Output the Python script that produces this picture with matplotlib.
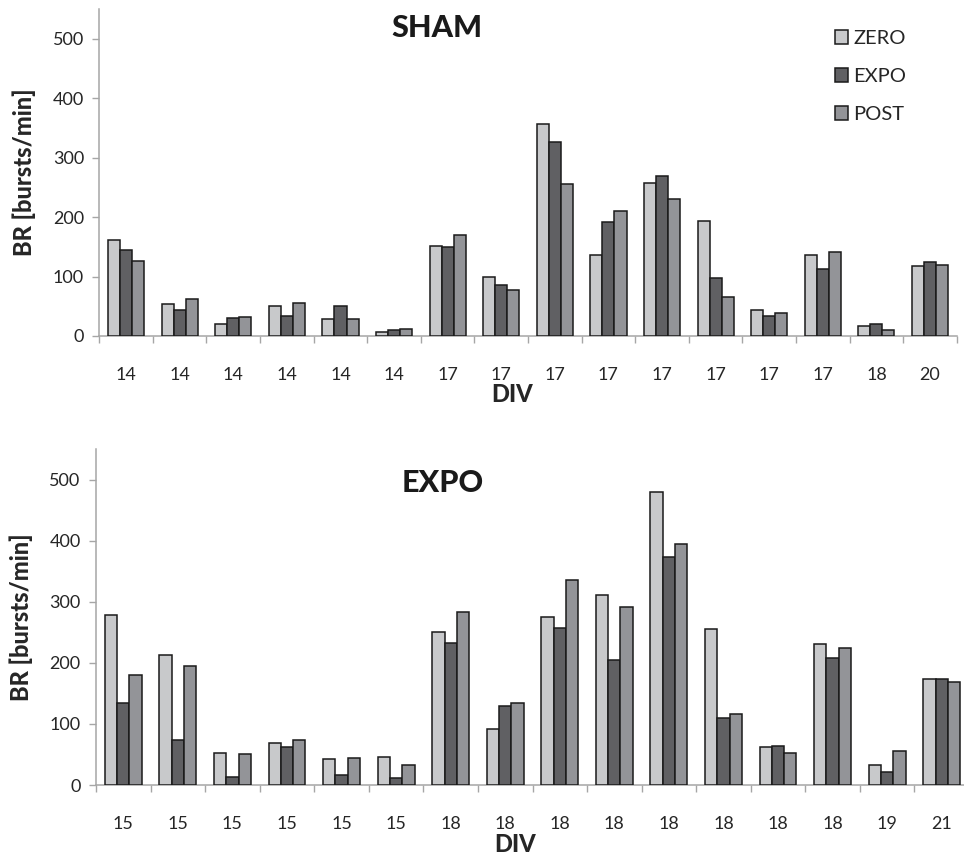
import matplotlib
matplotlib.use("Agg")
import matplotlib.pyplot as plt
import numpy as np

plt.rcParams['font.family'] = ['Lato', 'DejaVu Sans']

series = ["ZERO", "EXPO", "POST"]
colors = ["#c8c9cb", "#606063", "#939498"]

sham_div = ["14", "14", "14", "14", "14", "14", "17", "17", "17", "17", "17", "17", "17", "17", "18", "20"]
sham_zero = [161, 54, 21, 50, 28, 6, 151, 99, 357, 136, 258, 193, 43, 137, 16, 118]
sham_expo = [145, 43, 30, 34, 50, 10, 150, 85, 326, 192, 269, 98, 33, 112, 21, 124]
sham_post = [126, 62, 32, 56, 29, 12, 170, 77, 255, 210, 231, 66, 38, 142, 10, 120]

expo_div = ["15", "15", "15", "15", "15", "15", "18", "18", "18", "18", "18", "18", "18", "18", "19", "21"]
expo_zero = [278, 213, 53, 69, 43, 46, 251, 92, 276, 311, 480, 256, 63, 231, 32, 173]
expo_expo = [134, 73, 13, 63, 17, 11, 233, 129, 257, 204, 374, 110, 64, 208, 21, 174]
expo_post = [181, 195, 51, 73, 44, 32, 284, 135, 336, 291, 395, 116, 52, 224, 56, 169]

W, H = 964, 856
fig = plt.figure(figsize=(W / 100, H / 100), dpi=100)

def px_axes(left, right, top, bottom):
    return fig.add_axes([left / W, 1 - bottom / H, (right - left) / W, (bottom - top) / H])

ax1 = px_axes(99.3, 956.8, 9, 336)
ax2 = px_axes(96, 969, 449.3, 785)

spine_col = "#a6a6a6"
text_col = "#262626"
bw = 0.225

def draw(ax, labels, data, title, tx, ty, xlab_pos):
    x = np.arange(len(labels))
    bars = []
    for i, (vals, c, name) in enumerate(zip(data, colors, series)):
        b = ax.bar(x + (i - 1) * bw, vals, width=bw, color=c, edgecolor="#1a1a1a",
                   linewidth=1.1, label=name, zorder=3)
        bars.append(b)
    ax.set_xlim(-0.5, len(labels) - 0.5)
    ax.set_ylim(0, 550)
    ax.set_yticks([0, 100, 200, 300, 400, 500])
    ax.set_xticks(x)
    ax.set_xticklabels(labels)
    ax.set_xticks(np.arange(-0.5, len(labels), 1.0), minor=True)
    ax.tick_params(axis="x", which="major", length=0, pad=22, labelsize=13, labelcolor=text_col)
    ax.tick_params(axis="x", which="minor", length=5, color=spine_col, width=1)
    ax.tick_params(axis="y", length=5, color=spine_col, width=1, labelsize=13,
                   labelcolor=text_col, pad=6)
    for s in ["top", "right"]:
        ax.spines[s].set_visible(False)
    for s in ["left", "bottom"]:
        ax.spines[s].set_color(spine_col)
        ax.spines[s].set_linewidth(1.1)
    ax.set_ylabel("BR [bursts/min]", fontsize=17, fontweight="black", color=text_col, labelpad=12)
    ax.set_xlabel("DIV", fontsize=17, fontweight="black", color=text_col)
    ax.xaxis.set_label_coords(xlab_pos[0], xlab_pos[1])
    ax.xaxis.label.set_va("center")
    ax.text(tx, ty, title, transform=ax.transAxes, ha="center", va="center",
            fontsize=22, fontweight="black", color="#1a1a1a")
    return bars

bars = draw(ax1, sham_div, [sham_zero, sham_expo, sham_post], "SHAM", 0.394, 0.942,
            ((512 - 99.3) / 857.5, -(395 - 336) / 327.0))
draw(ax2, expo_div, [expo_zero, expo_expo, expo_post], "EXPO", 0.397, 0.899,
     ((515 - 96) / 873.0, -(844 - 785) / 335.7))

ax1.legend(handles=bars, labels=series, loc="upper left",
           bbox_to_anchor=(835 / W, 1 - 30 / H), bbox_transform=fig.transFigure,
           frameon=False, fontsize=14.5, handlelength=0.65, handleheight=0.65,
           handletextpad=0.25, labelspacing=1.05, borderpad=0, borderaxespad=0,
           labelcolor=text_col)

fig.savefig("out.png", dpi=100)
